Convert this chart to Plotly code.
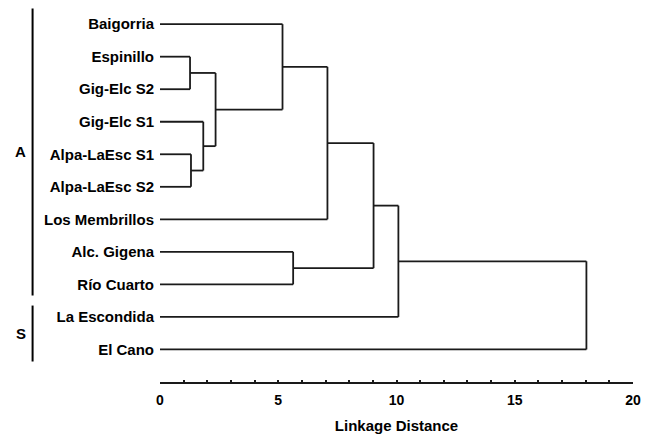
import plotly.graph_objects as go

# ---- data ----
labels = ["Baigorria", "Espinillo", "Gig-Elc S2", "Gig-Elc S1", "Alpa-LaEsc S1",
          "Alpa-LaEsc S2", "Los Membrillos", "Alc. Gigena", "Río Cuarto",
          "La Escondida", "El Cano"]
# merges: cluster ids continue after leaves (11, 12, ...)
merge_a = [1, 4, 3, 11, 0, 7, 15, 17, 18, 19]
merge_b = [2, 5, 12, 13, 14, 8, 6, 16, 9, 10]
merge_h = [1.27, 1.31, 1.83, 2.35, 5.18, 5.63, 7.08, 9.03, 10.08, 18.03]

group_names = ["A", "S"]
group_start = [-0.48, 8.65]
group_end = [8.34, 10.37]

x_ticks = [0, 5, 10, 15, 20]
x_title = "Linkage Distance"

# ---- build dendrogram segments ----
n = len(labels)
pos = {i: float(i) for i in range(n)}
hgt = {i: 0.0 for i in range(n)}
xs, ys = [], []
for k, (a, b, h) in enumerate(zip(merge_a, merge_b, merge_h)):
    for c in (a, b):
        xs += [hgt[c], h, None]
        ys += [pos[c], pos[c], None]
    xs += [h, h, None]
    ys += [pos[a], pos[b], None]
    cid = n + k
    pos[cid] = (pos[a] + pos[b]) / 2
    hgt[cid] = h

Y0, Y1 = 11.0, -0.65  # reversed y range

fig = go.Figure()
fig.add_trace(go.Scatter(x=xs, y=ys, mode="lines",
                         line=dict(color="#1a1a1a", width=1.8),
                         hoverinfo="skip", showlegend=False))

def ypaper(v):
    return (Y0 - v) / (Y0 - Y1)

bx = (32.5 - 160) / 473.3
for name, s, e in zip(group_names, group_start, group_end):
    fig.add_shape(type="line", xref="paper", yref="paper",
                  x0=bx, x1=bx, y0=ypaper(s), y1=ypaper(e),
                  line=dict(color="black", width=2))
    fig.add_annotation(xref="paper", yref="paper", x=(20.5 - 160) / 473.3,
                       y=ypaper((s + e) / 2), text=name, showarrow=False,
                       font=dict(size=15, color="black", family="Liberation Sans, Arial",
                                 weight="bold"),
                       xanchor="center", yanchor="middle")

font_b = dict(family="Liberation Sans, Arial", color="black", weight="bold")

fig.update_layout(
    width=656, height=435,
    margin=dict(l=160, r=22.7, t=3, b=51),
    paper_bgcolor="white", plot_bgcolor="white",
    xaxis=dict(range=[0, 20], tickvals=x_ticks, showgrid=False, zeroline=False,
               showline=True, linecolor="#1a1a1a", linewidth=1.6,
               ticks="inside", ticklen=2, tickwidth=1.5, tickcolor="#1a1a1a",
               minor=dict(dtick=1, ticks="inside", ticklen=2, tickwidth=1.5,
                          tickcolor="#1a1a1a"),
               ticklabelstandoff=4,
               tickfont=dict(size=14, **font_b),
               title=dict(text=x_title, font=dict(size=15, **font_b), standoff=14)),
    yaxis=dict(range=[Y0, Y1], tickvals=list(range(n)), ticktext=labels,
               showgrid=False, zeroline=False, showline=False, ticks="",
               ticklabelstandoff=5,
               tickfont=dict(size=15, **font_b)),
)

fig.write_html("out.html", config={"displayModeBar": False},
               post_script="document.body.style.margin='0';")
